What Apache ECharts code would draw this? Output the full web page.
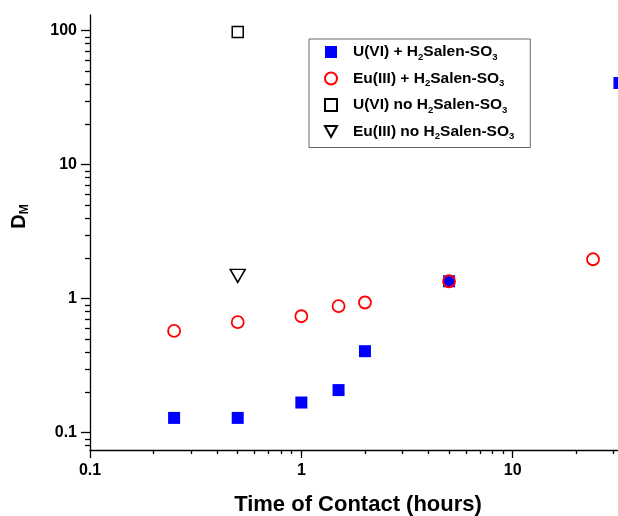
<!DOCTYPE html>
<html><head><meta charset="utf-8">
<script src="https://cdn.jsdelivr.net/npm/echarts@6/dist/echarts.min.js"></script>
<style>html,body{margin:0;padding:0;background:#fff}#c{width:618px;height:516px}</style>
</head><body><div id="c"></div>
<script>
// ---- data ----
const seriesNames = ['U(VI) + H2Salen-SO3', 'Eu(III) + H2Salen-SO3', 'U(VI) no H2Salen-SO3', 'Eu(III) no H2Salen-SO3'];
const uTime   = [0.25, 0.5, 1, 1.5, 2, 5, 32];
const uD      = [0.129, 0.129, 0.168, 0.208, 0.406, 1.35, 40.7];
const euTime  = [0.25, 0.5, 1, 1.5, 2, 5, 24];
const euD     = [0.575, 0.668, 0.74, 0.88, 0.937, 1.35, 1.97];
const uNoTime = [0.5];
const uNoD    = [98];
const euNoTime = [0.5];
const euNoD    = [1.48];
const xMajorTicks = [0.1, 1, 10];
const xMinorTicks = [0.2, 0.3, 0.4, 0.5, 0.6, 0.7, 0.8, 0.9, 2, 3, 4, 5, 6, 7, 8, 9, 20, 30];
const yMajorTicks = [0.1, 1, 10, 100];
const yMinorTicks = [0.08, 0.09, 0.2, 0.3, 0.4, 0.5, 0.6, 0.7, 0.8, 0.9, 2, 3, 4, 5, 6, 7, 8, 9, 20, 30, 40, 50, 60, 70, 80, 90];
const xTitle = 'Time of Contact (hours)';

const FONT = '"Liberation Sans", Arial, sans-serif';
const zip = (a, b) => a.map((v, i) => [v, b[i]]);
const legendRich = {
  'U(VI) + H2Salen-SO3': '{n|U(VI) + H}{s|2}{n|Salen-SO}{s|3}',
  'Eu(III) + H2Salen-SO3': '{n|Eu(III) + H}{s|2}{n|Salen-SO}{s|3}',
  'U(VI) no H2Salen-SO3': '{n|U(VI) no H}{s|2}{n|Salen-SO}{s|3}',
  'Eu(III) no H2Salen-SO3': '{n|Eu(III) no H}{s|2}{n|Salen-SO}{s|3}'
};
const richStyles = {
  n: { fontFamily: FONT, fontWeight: 'bold', fontSize: 15.5, color: '#000', lineHeight: 20 },
  s: { fontFamily: FONT, fontWeight: 'bold', fontSize: 9.5, color: '#000', lineHeight: 20, padding: [10, 0, 0, 0] }
};
const XMIN = 0.1, XMAX = 31.5, YMIN = 0.0743, YMAX = 131;

const chart = echarts.init(document.getElementById('c'), null, { renderer: 'canvas' });
const axisCommon = { type: 'log', logBase: 10, splitLine: { show: false } };
chart.setOption({
  animation: false,
  backgroundColor: '#fff',
  grid: { left: 90, top: 15, right: 0, height: 435, outerBoundsMode: 'none', containLabel: false },
  legend: {
    orient: 'vertical', left: 309, top: 39,
    itemWidth: 12, itemHeight: 12, itemGap: 6.5,
    padding: [3, 16, 6, 15],
    borderColor: '#666', borderWidth: 1,
    data: seriesNames,
    formatter: (name) => legendRich[name],
    textStyle: { padding: [0, 0, 0, 11], rich: richStyles }
  },
  xAxis: [
    Object.assign({}, axisCommon, {
      min: XMIN, max: XMAX,
      name: xTitle, nameLocation: 'middle', nameGap: 44,
      nameTextStyle: { fontFamily: FONT, fontWeight: 'bold', fontSize: 22, color: '#000', padding: [0, 0, 0, 8] },
      axisLine: { show: true, lineStyle: { color: '#000', width: 1.3 } },
      axisTick: { show: true, inside: false, length: 8, lineStyle: { color: '#000', width: 1.3 }, customValues: xMajorTicks },
      axisLabel: { show: true, margin: 13, fontFamily: FONT, fontWeight: 'bold', fontSize: 16, color: '#000', customValues: xMajorTicks, formatter: v => String(v) }
    }),
    Object.assign({}, axisCommon, {
      min: XMIN, max: XMAX, position: 'bottom',
      axisLine: { show: false },
      axisTick: { show: true, inside: false, length: 4, lineStyle: { color: '#000', width: 1.3 }, customValues: xMinorTicks },
      axisLabel: { show: false }
    })
  ],
  yAxis: [
    Object.assign({}, axisCommon, {
      min: YMIN, max: YMAX,
      name: '{d|D}{m|M}', nameLocation: 'middle', nameGap: 58, nameRotate: 90,
      nameTextStyle: { padding: [0, 0, 0, 32], rich: {
        d: { fontFamily: FONT, fontWeight: 'bold', fontSize: 20, color: '#000', lineHeight: 26 },
        m: { fontFamily: FONT, fontWeight: 'bold', fontSize: 12, color: '#000', lineHeight: 26, padding: [11, 0, 0, 0] }
      } },
      axisLine: { show: true, lineStyle: { color: '#000', width: 1.3 } },
      axisTick: { show: true, inside: false, length: 9, lineStyle: { color: '#000', width: 1.3 }, customValues: yMajorTicks },
      axisLabel: { show: true, margin: 13, fontFamily: FONT, fontWeight: 'bold', fontSize: 16, color: '#000', customValues: yMajorTicks, formatter: v => String(v) }
    }),
    Object.assign({}, axisCommon, {
      min: YMIN, max: YMAX, position: 'left',
      axisLine: { show: false },
      axisTick: { show: true, inside: false, length: 5, lineStyle: { color: '#000', width: 1.3 }, customValues: yMinorTicks },
      axisLabel: { show: false }
    })
  ],
  series: [
    { name: seriesNames[0], type: 'scatter', clip: false, data: zip(uTime, uD), symbol: 'rect', symbolSize: 12,
      itemStyle: { color: '#0000ff', opacity: 1 }, z: 2 },
    { name: seriesNames[1], type: 'scatter', clip: false, data: zip(euTime, euD), symbol: 'circle', symbolSize: 12,
      itemStyle: { color: 'rgba(0,0,0,0)', borderColor: '#ff0000', borderWidth: 1.8, opacity: 1 }, z: 3 },
    { name: seriesNames[2], type: 'scatter', clip: false, data: zip(uNoTime, uNoD), symbol: 'rect', symbolSize: 11,
      itemStyle: { color: 'rgba(0,0,0,0)', borderColor: '#000', borderWidth: 1.5, opacity: 1 }, z: 3 },
    { name: seriesNames[3], type: 'scatter', clip: false, data: zip(euNoTime, euNoD), symbol: 'path://M0,0L10,0L5,9Z', symbolSize: [15, 13],
      itemStyle: { color: 'rgba(0,0,0,0)', borderColor: '#000', borderWidth: 1.5, opacity: 1 }, z: 3 }
  ]
});
</script>
</body></html>
